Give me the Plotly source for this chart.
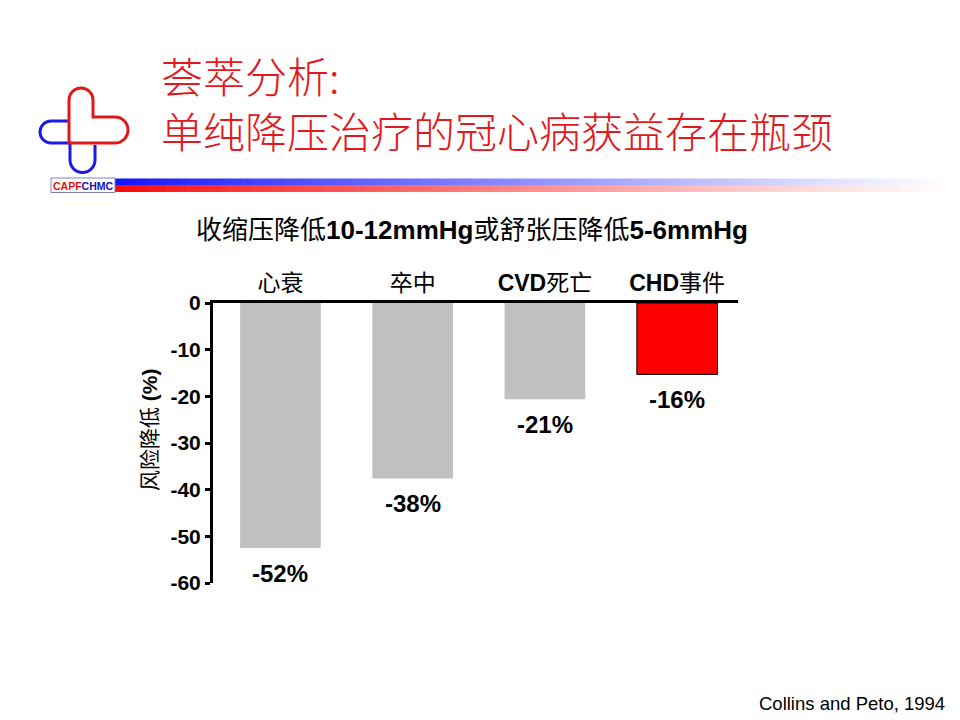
import math
import plotly.graph_objects as go

# chart data
categories = ["心衰", "卒中", "CVD死亡", "CHD事件"]
tick_labels = ["心衰", "卒中", "<b>CVD</b>死亡", "<b>CHD</b>事件"]
risk_reduction = [-52.5, -37.6, -20.6, -15.3]
value_labels = ["-52%", "-38%", "-21%", "-16%"]
bar_colors = ["#c0c0c0", "#c0c0c0", "#c0c0c0", "#ff0000"]
bar_lines = [0, 0, 0, 1]
y_ticks = [0, -10, -20, -30, -40, -50, -60]

TITLE = "荟萃分析:<br>单纯降压治疗的冠心病获益存在瓶颈"
SUBTITLE = "收缩压降低<b>10-12mmHg</b>或舒张压降低<b>5-6mmHg</b>"
Y_TITLE = "风险降低 <b>(%)</b>"
SOURCE = "Collins and Peto, 1994"

W, H = 960, 720
OFF = 8  # page body margin
L, R, T, B = 213, 738, 303, 583  # plot area in reference pixels
FONT = "Liberation Sans, Arial, Noto Sans CJK SC"
RED = "#e3181d"
BLUE = "#1a1ae6"


def px(x):
    return (x - L) / (R - L)


def py(y):
    return (B - y) / (B - T)


def path(points):
    out = []
    for cmd, pts in points:
        out.append(cmd + " ".join(f"{px(x):.5f},{py(y):.5f}" for x, y in pts))
    return " ".join(out)


def arc(cx, cy, r, a0, a1):
    # quarter arcs as cubic curves, angles in degrees (0 = right, 90 = down)
    segs = []
    k = 0.5523 * r
    a = a0
    step = 90 if a1 > a0 else -90
    sgn = 1 if step > 0 else -1
    while a != a1:
        b = a + step
        ra, rb = math.radians(a), math.radians(b)
        p0 = (cx + r * math.cos(ra), cy + r * math.sin(ra))
        p3 = (cx + r * math.cos(rb), cy + r * math.sin(rb))
        c1 = (p0[0] - sgn * k * math.sin(ra), p0[1] + sgn * k * math.cos(ra))
        c2 = (p3[0] + sgn * k * math.sin(rb), p3[1] - sgn * k * math.cos(rb))
        segs.append(("C", [c1, c2, p3]))
        a = b
    return segs


fig = go.Figure()

fig.add_trace(go.Bar(
    x=categories,
    y=risk_reduction,
    width=0.61,
    marker=dict(color=bar_colors, line=dict(color="black", width=bar_lines)),
    showlegend=False,
    hoverinfo="skip",
))

annotations = []
for cat, val, lab in zip(categories, risk_reduction, value_labels):
    annotations.append(dict(
        x=cat, y=val, text=f"<b>{lab}</b>", showarrow=False,
        yshift=-25, yanchor="middle",
        font=dict(family=FONT, size=24, color="black"),
    ))

annotations += [
    dict(xref="paper", yref="paper", x=px(159), y=py(102), text=TITLE,
         xanchor="left", yanchor="middle", align="left", showarrow=False,
         font=dict(family="Noto Sans CJK SC", size=42, color=RED, weight=300)),
    dict(xref="paper", yref="paper", x=px(472), y=py(230), text=SUBTITLE,
         xanchor="center", yanchor="middle", showarrow=False,
         font=dict(family=FONT, size=26, color="black")),
    dict(xref="paper", yref="paper", x=px(149), y=py(430), text=Y_TITLE,
         textangle=-90, xanchor="center", yanchor="middle", showarrow=False,
         font=dict(family=FONT, size=21, color="black")),
    dict(xref="paper", yref="paper", x=px(947), y=py(703), text=SOURCE,
         xanchor="right", yanchor="middle", showarrow=False,
         font=dict(family=FONT, size=18.5, color="black")),
    dict(xref="paper", yref="paper", x=px(83), y=py(185.5),
         text="<b><span style='color:#e01010'>CAPF</span><span style='color:#1010c0'>CHMC</span></b>",
         xanchor="center", yanchor="middle", showarrow=False,
         font=dict(family=FONT, size=10.5)),
]

shapes = []
# gradient bar under the title
n = 80
x0g, x1g = 115, 952
for i in range(n):
    t = i / (n - 1)
    xa = x0g + (x1g - x0g) * i / n
    xb = x0g + (x1g - x0g) * (i + 1) / n + 0.6
    fade = t ** 0.9
    blue = (int(20 + 235 * fade), int(20 + 235 * fade), 255)
    red = (255, int(10 + 245 * fade), int(10 + 245 * fade))
    shapes.append(dict(type="rect", xref="paper", yref="paper",
                       x0=px(xa), x1=px(xb), y0=py(185), y1=py(178.5),
                       fillcolor="rgb(%d,%d,%d)" % blue, line=dict(width=0), layer="below"))
    shapes.append(dict(type="rect", xref="paper", yref="paper",
                       x0=px(xa), x1=px(xb), y0=py(192), y1=py(185),
                       fillcolor="rgb(%d,%d,%d)" % red, line=dict(width=0), layer="below"))

# logo: blue half
blue_path = [("M", [(69, 121)]), ("L", [(51, 121)])] + arc(51, 132, 11, 270, 90) \
    + [("L", [(70, 143)]), ("L", [(70, 160)])] + arc(82.5, 160, 12.5, 180, 0) + [("L", [(95, 145)])]
shapes.append(dict(type="path", xref="paper", yref="paper", path=path(blue_path),
                   line=dict(color=BLUE, width=3)))
# logo: red half
red_path = [("M", [(69, 143)]), ("L", [(69, 100)])] + arc(81, 100, 12, 180, 360) \
    + [("L", [(93, 117)]), ("L", [(115, 117)])] + arc(115, 130, 13, 270, 450) + [("L", [(69, 143)]), ("Z", [])]
shapes.append(dict(type="path", xref="paper", yref="paper", path=path(red_path),
                   line=dict(color="#e01818", width=3)))
# logo label box
shapes.append(dict(type="rect", xref="paper", yref="paper",
                   x0=px(51), x1=px(115), y0=py(192.5), y1=py(178),
                   fillcolor="white", line=dict(color="#8080b0", width=1)))

fig.update_layout(
    width=W, height=H, autosize=False,
    margin=dict(l=L - OFF, r=W - R + OFF, t=T - OFF, b=H - B + OFF, pad=0),
    paper_bgcolor="white", plot_bgcolor="white",
    annotations=annotations,
    shapes=shapes,
)

fig.update_xaxes(
    side="top",
    range=[-0.51, 3.46],
    tickmode="array",
    tickvals=categories,
    ticktext=tick_labels,
    ticks="",
    ticklabelstandoff=0,
    tickfont=dict(family=FONT, size=23, color="black"),
    showline=True, linewidth=3, linecolor="black",
    showgrid=False, zeroline=False,
)

fig.update_yaxes(
    range=[-60, 0],
    tickmode="array",
    tickvals=y_ticks,
    ticktext=[str(v) for v in y_ticks],
    ticks="outside", ticklen=5, tickwidth=3, tickcolor="black",
    tickfont=dict(family=FONT, size=21, color="black", weight="bold"),
    showline=True, linewidth=3, linecolor="black",
    showgrid=False, zeroline=False,
)

fig.write_html("out.html")
